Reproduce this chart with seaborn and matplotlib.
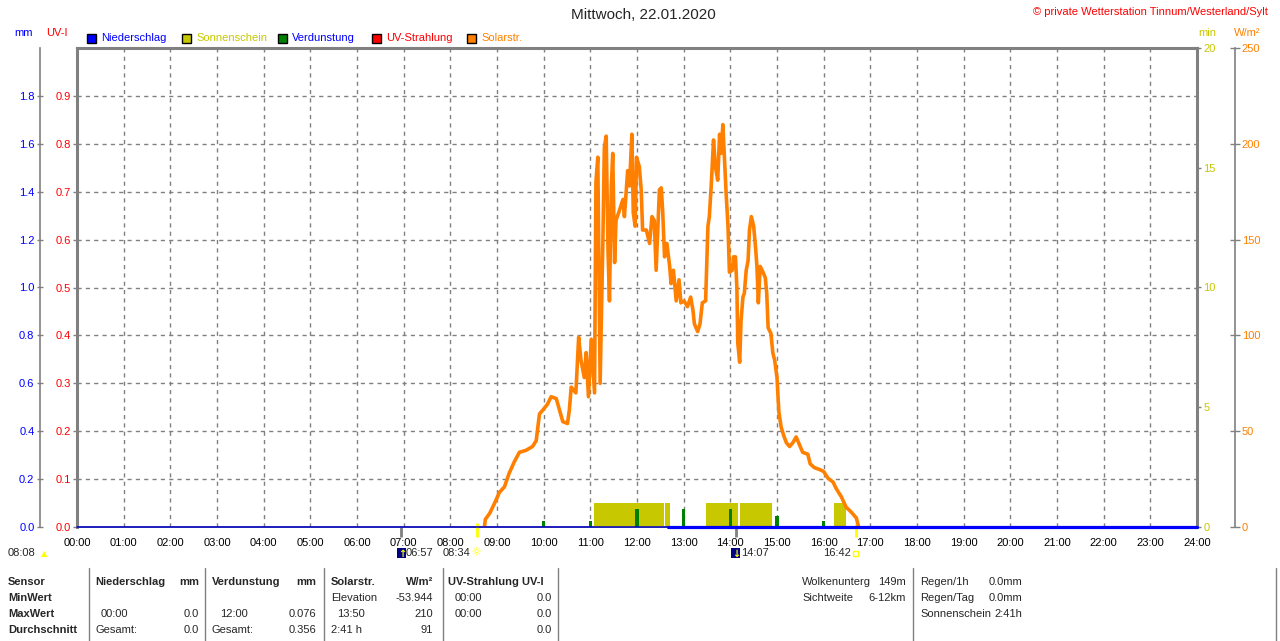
import numpy as np
import matplotlib
matplotlib.use("Agg")
import matplotlib.pyplot as plt
import seaborn as sns
from matplotlib.lines import Line2D
from matplotlib.patches import Rectangle

# ---------------- data ----------------
title = "Mittwoch, 22.01.2020"
copyright_txt = "\u00a9 private Wetterstation Tinnum/Westerland/Sylt"
hours = list(range(25))
hour_labels = [f"{h:02d}:00" for h in hours]

uv_ticks = [0.0, 0.1, 0.2, 0.3, 0.4, 0.5, 0.6, 0.7, 0.8, 0.9]
mm_ticks = [0.0, 0.2, 0.4, 0.6, 0.8, 1.0, 1.2, 1.4, 1.6, 1.8]
min_ticks = [0, 5, 10, 15, 20]
w_ticks = [0, 50, 100, 150, 200, 250]

solar_t = [8.73, 8.75, 8.84, 8.94, 9.05, 9.16, 9.26, 9.37, 9.48, 9.62, 9.76, 9.84,
           9.91, 9.98, 10.08, 10.16, 10.27, 10.34, 10.41, 10.51, 10.55, 10.59, 10.69,
           10.75, 10.80, 10.87, 10.91, 10.96, 11.02, 11.09, 11.12, 11.16, 11.21, 11.27,
           11.30, 11.34, 11.38, 11.41, 11.45, 11.48, 11.52, 11.55, 11.62, 11.70, 11.73,
           11.80, 11.84, 11.89, 11.92, 11.96, 11.99, 12.05, 12.09, 12.12, 12.20, 12.27,
           12.32, 12.37, 12.41, 12.48, 12.52, 12.55, 12.59, 12.64, 12.70, 12.73, 12.78,
           12.84, 12.90, 12.94, 13.01, 13.08, 13.15, 13.20, 13.23, 13.30, 13.35, 13.40,
           13.47, 13.52, 13.55, 13.59, 13.64, 13.68, 13.73, 13.77, 13.80, 13.84, 13.88,
           13.91, 13.95, 13.98, 14.04, 14.07, 14.11, 14.14, 14.16, 14.20, 14.23, 14.27,
           14.30, 14.34, 14.38, 14.41, 14.45, 14.50, 14.54, 14.57, 14.60, 14.64, 14.70,
           14.75, 14.78, 14.81, 14.87, 14.91, 14.95, 15.00, 15.04, 15.09, 15.14, 15.20,
           15.27, 15.34, 15.41, 15.48, 15.55, 15.66, 15.71, 15.80, 15.91, 16.00, 16.09,
           16.20, 16.27, 16.38, 16.48, 16.59, 16.70, 16.75]
solar_w = [0, 4, 7, 12, 18, 21, 28, 34, 39, 40, 42, 45,
           59, 61, 64, 68, 67, 61, 55, 54, 61, 73, 70,
           99, 87, 78, 91, 68, 98, 70, 180, 193, 75, 151,
           198, 204, 143, 118, 178, 195, 138, 160, 165, 171, 162,
           186, 178, 205, 164, 157, 193, 188, 176, 155, 155, 148,
           162, 160, 134, 176, 177, 165, 141, 148, 136, 127, 134,
           118, 129, 117, 118, 115, 120, 113, 106, 102, 106, 117,
           118, 157, 162, 178, 202, 188, 181, 205, 195, 210, 190,
           174, 157, 133, 134, 141, 141, 125, 96, 86, 108, 120,
           122, 134, 139, 155, 162, 157, 146, 136, 117, 136, 133,
           130, 122, 104, 101, 91, 87, 78, 60, 52, 48, 44,
           42, 44, 47, 43, 39, 38, 33, 31, 30, 29, 25.5,
           23.5, 20, 15.7, 10.4, 7.8, 4.7, 0]

sun_start = [11.08, 12.60, 13.48, 14.21, 16.22]
sun_end = [12.58, 12.71, 14.16, 14.89, 16.48]
sun_min = [1, 1, 1, 1, 1]

evap_t = [10, 11, 12, 13, 14, 15, 16]
evap_mm = [0.024, 0.024, 0.076, 0.074, 0.074, 0.048, 0.024]

precip_t = [0.0, 12.67, 24.0]
precip_mm = [0.0, 0.0, 0.0]

events_t = [6.95, 8.567, 14.117, 16.70]
events_kind = ["moon", "sun", "moon", "sun"]

legend_labels = ["Niederschlag", "Sonnenschein", "Verdunstung", "UV-Strahlung", "Solarstr."]

table_header = ["Sensor", "Niederschlag", "mm", "Verdunstung", "mm", "Solarstr.", "W/m\u00b2", "UV-Strahlung UV-I"]
table_rows = ["MinWert", "MaxWert", "Durchschnitt"]

# ---------------- style ----------------
BLUE = "#0000FF"
RED = "#FF0000"
OLIVE = "#C8C800"
GREEN = "#008000"
ORANGE = "#FF8000"
GRAY = "#808080"
SUNY = "#FFFF00"

sns.set_style("white")
plt.rcParams["font.family"] = ["Liberation Sans", "DejaVu Sans"]
plt.rcParams["font.size"] = 8

W, H = 1280, 641
fig = plt.figure(figsize=(12.8, 6.41), dpi=100)
fig.patch.set_facecolor("white")


def fx(x):
    return x / W


def fy(y):
    return 1 - y / H


ax = fig.add_axes([fx(77), fy(527), 1120 / W, 479 / H])
ax.set_facecolor("white")
ax.set_xlim(0, 24)
ax.set_ylim(0, 1.0)
ax.set_xticks(hours)
ax.set_xticklabels(hour_labels)
ax.set_yticks(uv_ticks)
ax.set_yticklabels([f"{v:.1f}" for v in uv_ticks])
ax.grid(True, color=GRAY, linestyle=(0, (3, 3)), linewidth=1)
ax.tick_params(axis="y", direction="out", length=3, width=1, color=GRAY,
               pad=1.5, labelsize=8, labelcolor=RED)
ax.tick_params(axis="x", direction="out", length=2, width=1, color=GRAY,
               pad=6, labelsize=8, labelcolor="black")
for s in ["left", "top", "right"]:
    ax.spines[s].set_color(GRAY)
    ax.spines[s].set_linewidth(2.2)
ax.spines["bottom"].set_color(GRAY)
ax.spines["bottom"].set_linewidth(1.2)

# sunshine (minutes)
ax_min = ax.twinx()
ax_min.set_ylim(0, 20)
ax_min.set_yticks(min_ticks)
ax_min.set_yticklabels([str(v) for v in min_ticks])
ax_min.tick_params(axis="y", direction="out", length=3, width=1, color=GRAY,
                   pad=1.5, labelsize=8, labelcolor=OLIVE)
for s in ax_min.spines.values():
    s.set_visible(False)
ax_min.bar(sun_start, sun_min, width=np.subtract(sun_end, sun_start), align="edge",
           color=OLIVE, linewidth=0)

# solar radiation W/m2
ax_w = ax.twinx()
ax_w.set_ylim(0, 250)
for s in ["left", "top", "bottom"]:
    ax_w.spines[s].set_visible(False)
ax_w.spines["right"].set_position(("axes", (1235 - 77) / 1120))
ax_w.spines["right"].set_color(GRAY)
ax_w.spines["right"].set_linewidth(1.2)
sns.lineplot(x=solar_t, y=solar_w, ax=ax_w, color=ORANGE, linewidth=2.6,
             estimator=None, sort=False)
ax_w.set_ylim(0, 250)
ax_w.set_xlim(0, 24)
ax_w.set_yticks(w_ticks)
ax_w.set_yticklabels([str(v) for v in w_ticks])
ax_w.set_ylabel("")
ax_w.tick_params(axis="y", direction="inout", length=6.5, width=1, color=GRAY,
                 pad=1.5, labelsize=8, labelcolor=ORANGE)

# precipitation / evaporation mm
ax_mm = ax.twinx()
ax_mm.set_ylim(0, 2.0)
ax_mm.yaxis.tick_left()
for s in ["right", "top", "bottom"]:
    ax_mm.spines[s].set_visible(False)
ax_mm.spines["left"].set_visible(True)
ax_mm.spines["left"].set_position(("axes", (40 - 77) / 1120))
ax_mm.spines["left"].set_color(GRAY)
ax_mm.spines["left"].set_linewidth(1.2)
ax_mm.set_yticks(mm_ticks)
ax_mm.set_yticklabels([f"{v:.1f}" for v in mm_ticks])
ax_mm.tick_params(axis="y", direction="inout", length=5, width=1, color=GRAY,
                  pad=1.5, labelsize=8, labelcolor=BLUE)
ax_mm.bar(evap_t, evap_mm, width=0.07, color=GREEN, linewidth=0)
ax_mm.plot(precip_t, precip_mm, color="#0000C8", linewidth=1.1, clip_on=False, zorder=5)
ax_mm.plot(precip_t[1:], precip_mm[1:], color=BLUE, linewidth=2.3, clip_on=False, zorder=6)
ax_mm.set_xlim(0, 24)

# sun / moon event ticks below axis
for t, k in zip(events_t, events_kind):
    col = GRAY if k == "moon" else SUNY
    top = 0.0 if k == "moon" else 0.009
    ax.plot([t, t], [top, -0.021], transform=ax.get_xaxis_transform(), color=col,
            linewidth=2, clip_on=False, zorder=10, solid_capstyle="butt")

# ---------------- header texts ----------------
fig.text(fx(643), fy(15), title, ha="center", va="center", fontsize=11)
fig.text(fx(1268), fy(12), copyright_txt, ha="right", va="center", fontsize=8, color=RED)

fig.text(fx(14), fy(33), "mm", ha="left", va="center", fontsize=8, color=BLUE)
fig.text(fx(46), fy(33), "UV-I", ha="left", va="center", fontsize=8, color=RED)
fig.text(fx(1198), fy(33), "min", ha="left", va="center", fontsize=8, color=OLIVE)
fig.text(fx(1234), fy(33), "W/m\u00b2", ha="left", va="center", fontsize=8, color=ORANGE)

legend_face = [BLUE, OLIVE, GREEN, RED, ORANGE]
legend_tcol = [BLUE, OLIVE, BLUE, RED, ORANGE]
legend_x = [87, 182, 278, 372, 467]
for lab, fc, tc, lx in zip(legend_labels, legend_face, legend_tcol, legend_x):
    fig.add_artist(Rectangle((fx(lx), fy(43)), 9 / W, 9 / H, transform=fig.transFigure,
                             facecolor=fc, edgecolor="black", linewidth=1))
    fig.text(fx(lx + 14), fy(38), lab, ha="left", va="center", fontsize=8, color=tc)

# ---------------- sun/moon row ----------------
ry = 553
fig.text(fx(8), fy(ry), "08:08", ha="left", va="center", fontsize=8)
fig.text(fx(44), fy(ry + 1), "\u25b2", ha="center", va="center", fontsize=6, color=SUNY,
         family="DejaVu Sans")


def moon_icon(x, up):
    fig.add_artist(Rectangle((fx(x), fy(ry + 5)), 9 / W, 10 / H, transform=fig.transFigure,
                             facecolor="#000080", edgecolor="none"))
    fig.text(fx(x + 5), fy(ry + 1), "\u2191" if up else "\u2193", ha="center", va="center",
             fontsize=7, color=SUNY, fontweight="bold", family="DejaVu Sans")


moon_icon(397, True)
fig.text(fx(406), fy(ry), "06:57", ha="left", va="center", fontsize=8)
fig.text(fx(443), fy(ry), "08:34", ha="left", va="center", fontsize=8)
fig.text(fx(477), fy(ry), "\u263c", ha="center", va="center", fontsize=9, color=SUNY,
         family="DejaVu Sans")
moon_icon(731, False)
fig.text(fx(741), fy(ry), "14:07", ha="left", va="center", fontsize=8)
fig.text(fx(823), fy(ry), "16:42", ha="left", va="center", fontsize=8)
fig.add_artist(Rectangle((fx(853), fy(ry + 3)), 5 / W, 5 / H, transform=fig.transFigure,
                         facecolor="none", edgecolor=SUNY, linewidth=1))

# ---------------- table ----------------
rows_y = [582, 598, 614, 630]
hdr_x = [(8, "left"), (95, "left"), (199, "right"), (212, "left"), (316, "right"),
         (331, "left"), (433, "right"), (448, "left")]
for (x, ha), txt in zip(hdr_x, table_header):
    fig.text(fx(x), fy(rows_y[0]), txt, ha=ha, va="center", fontsize=8, fontweight="bold")
for y, txt in zip(rows_y[1:], table_rows):
    fig.text(fx(8), fy(y), txt, ha="left", va="center", fontsize=8, fontweight="bold")

cells = [
    (331, 598, "Elevation", "left"), (433, 598, "-53.944", "right"),
    (455, 598, "00:00", "left"), (552, 598, "0.0", "right"),
    (101, 614, "00:00", "left"), (199, 614, "0.0", "right"),
    (220, 614, "12:00", "left"), (316, 614, "0.076", "right"),
    (337, 614, "13:50", "left"), (433, 614, "210", "right"),
    (455, 614, "00:00", "left"), (552, 614, "0.0", "right"),
    (95, 630, "Gesamt:", "left"), (199, 630, "0.0", "right"),
    (212, 630, "Gesamt:", "left"), (316, 630, "0.356", "right"),
    (331, 630, "2:41 h", "left"), (433, 630, "91", "right"),
    (552, 630, "0.0", "right"),
    (802, 582, "Wolkenunterg", "left"), (906, 582, "149m", "right"),
    (802, 598, "Sichtweite", "left"), (906, 598, "6-12km", "right"),
    (920, 582, "Regen/1h", "left"), (1022, 582, "0.0mm", "right"),
    (920, 598, "Regen/Tag", "left"), (1022, 598, "0.0mm", "right"),
    (920, 614, "Sonnenschein", "left"), (1022, 614, "2:41h", "right"),
]
for x, y, txt, ha in cells:
    fig.text(fx(x), fy(y), txt, ha=ha, va="center", fontsize=8)

for sx in [89, 205, 324, 443, 558, 913, 1276]:
    fig.add_artist(Line2D([fx(sx), fx(sx)], [fy(568), fy(641)], transform=fig.transFigure,
                          color=GRAY, linewidth=1))

fig.savefig("out.png", dpi=100, facecolor="white")
